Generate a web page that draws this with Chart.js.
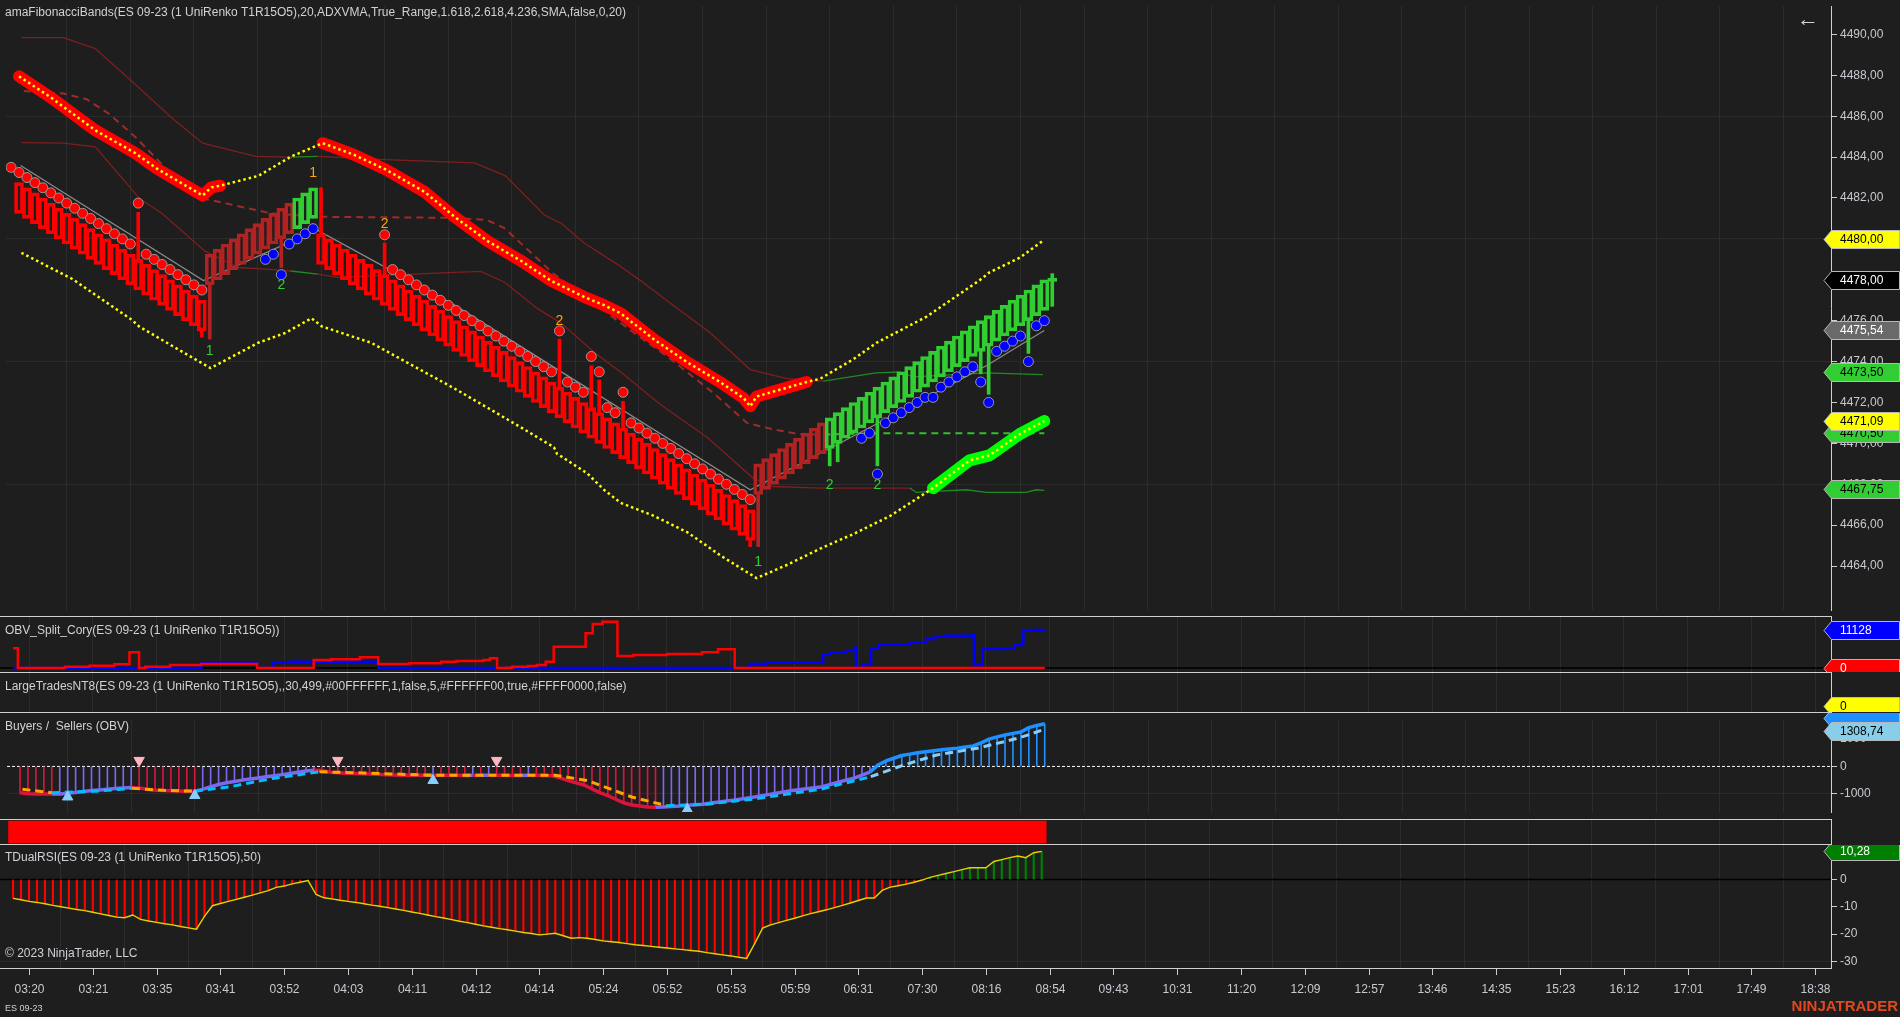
<!DOCTYPE html>
<html>
<head>
<meta charset="utf-8">
<title>ES 09-23</title>
<script src="https://cdn.jsdelivr.net/npm/chart.js@4.4.1/dist/chart.umd.min.js"></script>
<style>
  html, body { margin: 0; padding: 0; background: #1e1e1e; overflow: hidden; }
  #page { position: relative; width: 1900px; height: 1017px; background: #1e1e1e; font-family: "Liberation Sans", Arial, sans-serif; }
  canvas { position: absolute; left: 0; display: block; }
  .sep { position: absolute; left: 0; width: 1832px; height: 1px; background: #cfcfcf; }
  .txt { position: absolute; color: #cfd2d6; font-size: 12px; white-space: nowrap; line-height: 14px; }
</style>
</head>
<body>
<div id="page">
  <canvas id="cPrice" width="1900" height="616" style="top:0px"></canvas>
  <canvas id="cObv" width="1900" height="55" style="top:617px"></canvas>
  <canvas id="cLarge" width="1900" height="39" style="top:673px"></canvas>
  <canvas id="cBuyers" width="1900" height="106" style="top:713px"></canvas>
  <canvas id="cTrend" width="1900" height="24" style="top:820px"></canvas>
  <canvas id="cRsi" width="1900" height="172" style="top:845px"></canvas>

  <div class="sep" style="top:616px"></div>
  <div class="sep" style="top:672px"></div>
  <div class="sep" style="top:712px"></div>
  <div class="sep" style="top:819px"></div>
  <div class="sep" style="top:844px"></div>

  <div class="txt" style="left:5px;top:5px">amaFibonacciBands(ES 09-23 (1 UniRenko T1R15O5),20,ADXVMA,True_Range,1.618,2.618,4.236,SMA,false,0,20)</div>
  <div class="txt" style="left:5px;top:623px">OBV_Split_Cory(ES 09-23 (1 UniRenko T1R15O5))</div>
  <div class="txt" style="left:5px;top:679px">LargeTradesNT8(ES 09-23 (1 UniRenko T1R15O5),,30,499,#00FFFFFF,1,false,5,#FFFFFF00,true,#FFFF0000,false)</div>
  <div class="txt" style="left:5px;top:719px">Buyers /&nbsp; Sellers (OBV)</div>
  <div class="txt" style="left:5px;top:850px">TDualRSI(ES 09-23 (1 UniRenko T1R15O5),50)</div>
  <div class="txt" style="left:5px;top:946px">© 2023 NinjaTrader, LLC</div>
  <div class="txt" style="left:5px;top:1001px;font-size:9px">ES 09-23</div>
  <div class="txt" style="left:1797px;top:6px;font-size:22px;line-height:26px;color:#d4d4d4">&#8592;</div>
  <div class="txt" style="right:2px;top:997px;font-size:15px;line-height:18px;font-weight:bold;color:#e2471f">NINJATRADER</div>
</div>

<script>
// ---- time axis (bar index of each label, every 8 bars) ----
const timeLabels = ['03:20','03:21','03:35','03:41','03:52','04:03','04:11','04:12','04:14','05:24','05:52','05:53','05:59','06:31','07:30','08:16','08:54','09:43','10:31','11:20','12:09','12:57','13:46','14:35','15:23','16:12','17:01','17:49','18:38'];
const timeTickBars = [3,11,19,27,35,43,51,59,67,75,83,91,99,107,115,123,131,139,147,155,163,171,179,187,195,203,211,219,227];

// ---- price panel ----
const priceTicks = [4464,4466,4468,4470,4472,4474,4476,4478,4480,4482,4484,4486,4488,4490];
const priceGridLines = [4468,4474,4480,4486];

// UniRenko closes per bar (index 0..131)
const closes = [null,
  4481.25,4481.00,4480.75,4480.50,4480.25,4480.00,4479.75,4479.50,4479.25,4479.00,
  4478.75,4478.50,4478.25,4478.00,4477.75,4477.50,4477.25,4477.00,4476.75,4476.50,
  4476.25,4476.00,4475.75,4475.50,
  4479.25,4479.50,4479.75,4480.00,4480.25,4480.50,4480.75,4481.00,4481.25,4481.50,4481.75,
  4482.00,4482.25,4482.50,
  4478.75,4478.50,4478.25,4478.00,4477.75,4477.50,4477.25,4477.00,4476.75,4476.50,
  4476.25,4476.00,4475.75,4475.50,4475.25,4475.00,4474.75,4474.50,4474.25,4474.00,
  4473.75,4473.50,4473.25,4473.00,4472.75,4472.50,4472.25,4472.00,4471.75,4471.50,
  4471.25,4471.00,4470.75,4470.50,4470.25,4470.00,4469.75,4469.50,4469.25,4469.00,
  4468.75,4468.50,4468.25,4468.00,4467.75,4467.50,4467.25,4467.00,4466.75,4466.50,
  4466.25,4466.00,4465.75,4465.50,4465.25,
  4469.00,4469.25,4469.50,4469.75,4470.00,4470.25,4470.50,4470.75,4471.00,
  4471.25,4471.50,4471.75,4472.00,4472.25,4472.50,4472.75,4473.00,4473.25,4473.50,
  4473.75,4474.00,4474.25,4474.50,4474.75,4475.00,4475.25,4475.50,4475.75,4476.00,
  4476.25,4476.50,4476.75,4477.00,4477.25,4477.50,4477.75,4478.00,
  4478.00];
const BODY = 1.5; // trend 1 + open offset 5 ticks
// bar state runs: [from, to, state]
const barStates = [[1,24,'dn'],[25,35,'up1'],[36,38,'up2'],[39,93,'dn'],[94,102,'up1'],[103,131,'up2']];
// wicks: [bar, from, to]
const wicks = [[16,4479.0,4481.3],[24,4475.5,4475.2],[25,4477.75,4475.1],[34,4480.0,4478.6],[39,4480.25,4482.5],
  [47,4478.25,4479.8],[69,4472.75,4475.1],[73,4471.75,4473.8],[74,4471.5,4473.1],[77,4470.75,4472.05],
  [93,4465.25,4464.95],[94,4467.5,4464.95],[103,4469.75,4468.9],[104,4470.0,4469.1],[109,4471.25,4468.9],
  [122,4474.5,4473.4],[123,4474.75,4472.4],[128,4476.0,4474.4],[131,4476.7,4478.3]];

// trailing dots per bar
const dots = [4483.50,
  4483.25,4483.00,4482.75,4482.50,4482.25,4482.00,4481.75,4481.50,4481.25,4481.00,
  4480.75,4480.50,4480.25,4480.00,4479.75,
  4481.75,
  4479.25,4479.00,4478.75,4478.50,4478.25,4478.00,4477.75,4477.50,
  null,null,null,null,null,null,null,
  4479.00,4479.25,4478.25,4479.75,4480.00,4480.25,4480.50,
  null,null,null,null,null,null,null,null,
  4480.20,
  4478.50,4478.25,4478.00,4477.75,4477.50,4477.25,4477.00,4476.75,4476.50,4476.25,
  4476.00,4475.75,4475.50,4475.25,4475.00,4474.75,4474.50,4474.25,4474.00,4473.75,
  4473.50,
  4475.50,
  4473.00,4472.75,4472.50,
  4474.25,4473.50,
  4471.75,4471.50,
  4472.50,
  4471.00,4470.75,4470.50,4470.25,4470.00,4469.75,4469.50,4469.25,4469.00,4468.75,
  4468.50,4468.25,4468.00,4467.75,4467.50,4467.25,
  null,null,null,null,null,null,null,null,null,null,null,null,null,
  4470.25,4470.50,4468.50,4471.00,4471.25,4471.50,4471.75,4472.00,4472.25,4472.25,
  4472.75,4473.00,4473.25,4473.50,4473.75,4473.00,4472.00,4474.50,4474.75,4475.00,
  4475.25,4474.00,4475.75,4476.00,
  null];

// stop lines (vertices [bar, price])
const upperStop = [[1,4487.95],[5,4486.92],[10.6,4485.31],[15.6,4484.2],[18.5,4483.4],[24.1,4482.12],[25.2,4482.52],[26.3,4482.6],
  [31.1,4483.08],[35.3,4484.04],[38.7,4484.6],[39.2,4484.68],[43.1,4484.12],[47.1,4483.4],[52.1,4482.28],[55.8,4481.08],
  [60,4479.88],[64.2,4478.92],[67.9,4477.96],[72.1,4477.16],[74.6,4476.76],[76.7,4476.36],[80.9,4475.08],[85.1,4473.96],
  [89.2,4473.0],[92.2,4472.2],[93,4471.81],[93.8,4472.29],[95.9,4472.53],[100.1,4473.0],[101.8,4473.16],[106,4474.12],
  [108.9,4474.92],[115.2,4476.2],[121.8,4477.96],[123.1,4478.36],[126.9,4479.08],[130,4479.96]];
const upperStopActive = [[1,26.3],[39.2,100.1]];
const lowerStop = [[1.3,4479.32],[7.7,4478.04],[15.2,4476.04],[16.1,4475.72],[20.3,4474.76],[25.1,4473.68],[31.1,4474.92],
  [34.5,4475.4],[37.8,4476.12],[39.1,4475.72],[45.3,4474.92],[55.8,4472.68],[60,4471.73],[64.2,4470.77],[68.3,4469.81],
  [68.7,4469.49],[72.5,4468.53],[74.6,4467.73],[76.7,4467.09],[80.9,4466.45],[85.1,4465.65],[89.2,4464.53],[93.8,4463.41],
  [97.6,4464.05],[101.8,4464.85],[106,4465.57],[110.6,4466.45],[116,4467.81],[120.6,4469.17],[123.1,4469.41],
  [126.9,4470.45],[130,4471.09]];
const lowerStopActive = [[116,130]];

// fibonacci bands
const bandUpper = [[1.3,4489.84],[6.6,4489.84],[10.6,4489.31],[15.4,4487.64],[20.1,4485.96],[24.1,4484.68],[30.8,4484.04],
  [35.2,4484.0],[38.6,4484.04],[47.1,4483.88],[58.3,4483.72],[62.2,4483.08],[67.1,4481.17],[69.2,4480.76],[72.1,4479.8],
  [76.2,4478.78],[79.2,4477.96],[83,4476.84],[88,4475.4],[93,4473.61],[97.6,4473.17],[102.2,4473.04],[108.8,4473.45],
  [111.8,4473.49],[113.5,4473.25],[122.6,4473.45],[129.8,4473.36]];
const bandMiddle = [[1.6,4487.23],[6.6,4487.11],[9.5,4486.83],[12.3,4486.12],[15.6,4485.0],[18.4,4483.88],[21.3,4482.76],
  [24.4,4481.96],[32.8,4481.24],[39.1,4481.08],[55.8,4481.03],[59.9,4480.92],[62.1,4480.52],[68.3,4478.28],[73.4,4476.84],
  [78.4,4475.4],[83,4474.12],[88.4,4472.45],[92.6,4471.0],[95.9,4470.68],[99.3,4470.44],[102.2,4470.43],[109.5,4470.5],[130,4470.5]];
const bandLower = [[1.3,4484.71],[6.6,4484.68],[10.6,4484.5],[16.2,4481.96],[19,4481.24],[24.4,4479.4],[28.6,4478.6],
  [32,4478.52],[35.2,4478.43],[38.6,4478.28],[41.1,4478.12],[55.8,4478.36],[59.1,4478.41],[62.1,4477.88],[66.2,4476.6],
  [69.2,4475.88],[73.4,4474.44],[76.7,4473.49],[81.7,4471.9],[87.6,4470.29],[93.4,4468.29],[95.9,4467.89],[101.8,4467.81],
  [113.1,4467.81],[113.9,4467.6],[120.2,4467.73],[122.7,4467.6],[127.7,4467.6],[129,4467.73],[130,4467.7]];
const bandGreen = [[35.2,38.6],[102.2,131]];
const midGreen = [[102.2,131]];
const grayLine = [[1.2,4483.59],[24.2,4477.96],[38.5,4480.44],[55.8,4476.76],[93,4467.73],[107.2,4470.6],[116.2,4472.45],[122.7,4473.8],[130,4475.52]];

// small signal numbers: [bar, price, text, kind]
const priceNotes = [[38,4483.2,'1','o'],[25,4474.5,'1','g'],[34,4477.72,'2','g'],[47,4480.7,'2','o'],[69,4475.96,'2','o'],
  [94,4464.2,'1','g'],[103,4467.97,'2','g'],[109,4467.97,'2','g']];
const priceMarkers = [4480.00, 4478.00, 4475.54, 4473.50, 4470.50, 4471.09, 4467.75];

// ---- OBV split panel: step change points [bar, value] ----
const obvSell = [[1,5770],[1.6,0],[7.5,380],[10.6,670],[13.7,1080],[15.6,4600],[16.8,0],[17.6,380],[20.7,880],[24.6,1170],
  [31.6,0],[38.7,2340],[40.9,2550],[44.5,3130],[46.8,1170],[50.7,1380],[54.7,1850],[56.6,2050],[60,2340],[60.8,2840],
  [61.7,0],[62.8,90],[63.6,380],[65.6,590],[66.7,880],[67.8,1850],[68.8,6240],[72.8,10160],[73.7,12880],[74.9,13560],
  [76.8,3510],[78.8,3810],[83,4100],[87.4,4600],[89.4,5480],[91.5,0],[130.4,0]];
const obvBuy = [[1,0],[24.6,1670],[31.6,0],[33.6,1670],[35.9,1850],[46.8,0],[93.4,1170],[95.5,1550],[102.5,1850],[102.6,4010],
  [103.5,4600],[105.5,5070],[106.6,5940],[106.7,0],[107.6,1080],[108.6,5770],[109.6,6940],[113.5,7530],[115.6,8490],
  [116.6,9170],[117.9,9460],[121.4,9870],[121.5,880],[122.6,5560],[125.2,5770],[126.6,6730],[127.6,7230],[127.7,10920],
  [128.5,11130],[130.4,11130]];
const obvMarkers = [11128, 0];
const largeMarkers = [0];

// ---- Buyers / Sellers (OBV) ----
const buyersTicks = [1000, 0, -1000];
const buyersObv = [null,
  -960,-1000,-1010,-1010,-1010,-1005,-980,-950,-915,-880,
  -860,-835,-810,-790,-770,-790,-830,-870,-880,-890,
  -900,-905,-905,-840,-740,-660,-600,-550,-500,-460,
  -420,-380,-340,-300,-260,-215,-170,-135,-150,-215,
  -230,-245,-255,-270,-280,-290,-300,-310,-320,-325,
  -325,-325,-320,-320,-325,-325,-330,-325,-325,-320,
  -325,-325,-330,-330,-325,-325,-330,-340,-420,-520,
  -600,-680,-820,-960,-1070,-1200,-1330,-1410,-1450,-1480,
  -1490,-1480,-1470,-1450,-1420,-1400,-1380,-1340,-1300,-1260,
  -1225,-1180,-1140,-1090,-1040,-990,-940,-890,-850,-815,
  -780,-740,-660,-580,-500,-430,-320,-210,50,200,
  300,400,450,500,540,575,610,640,670,710,
  750,860,1000,1080,1150,1210,1260,1420,1500,1560,
  null];
const buyersSignal = [[1.3,-832],[5,-959],[10.6,-905],[15.1,-800],[19,-873],[23,-905],[27.4,-746],[33,-429],[38.7,-197],
  [44.3,-238],[52.7,-324],[68.4,-324],[72.4,-514],[78,-1117],[82.4,-1435],[87.4,-1381],[93.4,-1190],[101.8,-832],
  [108.1,-375],[112.2,48],[116.4,419],[121.8,683],[126.9,1054],[129.8,1340]];
const sellTriangles = [[16,220],[41,220],[61,220]];
const buyTriangles = [[7,-1117],[23,-1063],[53,-514],[85,-1571]];
const buyersMarkers = [1780, 1308.74];

// ---- trend bar panel: runs [from, to] ----
const trendRuns = [[1,130]];

// ---- TDualRSI ----
const rsiTicks = [0, -10, -20, -30];
const rsi = [null,
  -6.9,-7.4,-8.0,-8.4,-8.9,-9.5,-10.0,-10.5,-11.0,-11.4,
  -12.0,-12.6,-13.2,-13.8,-14.0,-13.0,-14.6,-15.2,-15.7,-16.2,
  -16.6,-17.2,-17.7,-18.2,-13.5,-9.6,-8.8,-8.0,-7.3,-6.5,
  -5.7,-4.9,-4.1,-2.9,-2.4,-1.6,-1.0,-0.4,-5.5,-6.7,
  -7.1,-7.6,-8.0,-8.4,-8.9,-9.4,-9.8,-10.3,-10.8,-11.3,
  -11.9,-12.4,-13.0,-13.6,-14.1,-14.7,-15.3,-15.8,-16.4,-17.0,
  -17.5,-18.0,-18.4,-18.9,-19.4,-19.8,-20.3,-20.0,-19.7,-20.6,
  -21.5,-21.3,-21.5,-22.0,-22.5,-22.8,-23.1,-23.5,-23.9,-24.2,
  -24.5,-24.8,-25.1,-25.4,-25.7,-26.0,-26.3,-26.8,-27.2,-27.6,
  -28.0,-28.5,-28.9,-23.5,-17.8,-16.6,-15.8,-15.0,-14.2,-13.3,
  -12.5,-11.8,-11.1,-10.3,-9.5,-8.6,-7.7,-6.8,-6.8,-4.0,
  -2.8,-2.3,-1.7,-1.0,-0.2,0.8,1.5,2.2,2.9,3.6,
  4.3,4.3,4.3,6.6,7.3,8.0,8.6,8.0,9.8,10.3,
  null];
const rsiMarkers = [10.28];

// ================= drawing =================
Chart.defaults.font.family = '"Liberation Sans", Arial, sans-serif';
Chart.defaults.font.size = 12;
Chart.defaults.animation = false;
Chart.defaults.elements.point.radius = 0;

const GRID = '#2c2c2c', AXIS = '#cfcfcf', AXIS_TXT = '#c6cad0';
const X_MIN = -0.637, X_MAX = 228.98;
const STATE_COLOR = { dn: '#ff0000', up1: '#b22222', up2: '#32cd32' };

const pts = pairs => pairs.map(p => ({ x: p[0], y: p[1] }));
const inRanges = (x, ranges) => ranges.some(r => x >= r[0] - 1e-6 && x <= r[1] + 1e-6);
const stateAt = i => { const r = barStates.find(s => i >= s[0] && i <= s[1]); return r ? r[2] : 'dn'; };
const fmt2 = v => v.toFixed(2).replace('.', ',');
const fmtInt = v => String(Math.round(v));

function xScale() {
  return {
    type: 'linear', min: X_MIN, max: X_MAX, offset: false,
    afterBuildTicks: s => { s.ticks = timeTickBars.map(v => ({ value: v })); },
    afterFit: s => { s.height = 0; s.paddingLeft = 0; s.paddingRight = 0; },
    ticks: { display: false },
    grid: { color: GRID, lineWidth: 1, drawTicks: false },
    border: { display: false }
  };
}

function yScale(min, max, tickVals, fmt, gridVals) {
  return {
    type: 'linear', position: 'right', min: min, max: max,
    afterBuildTicks: s => { s.ticks = tickVals.map(v => ({ value: v })); },
    afterFit: s => { s.width = 69; s.paddingTop = 0; s.paddingBottom = 0; },
    ticks: { display: !!fmt, autoSkip: false, padding: 3, color: AXIS_TXT, font: { size: 12 },
             callback: v => fmt ? fmt(v) : '' },
    grid: { color: c => (c.tick && gridVals.includes(c.tick.value)) ? GRID : 'rgba(0,0,0,0)',
            tickColor: AXIS, tickLength: 6, lineWidth: 1 },
    border: { display: true, color: AXIS, width: 1 }
  };
}

function baseOptions(yopts, padBottom) {
  return {
    responsive: false, maintainAspectRatio: false, animation: false, events: [],
    layout: { padding: { left: 0, right: 0, top: 0, bottom: padBottom || 0 } },
    plugins: { legend: { display: false }, tooltip: { enabled: false } },
    scales: { x: xScale(), y: yopts }
  };
}

// right-axis value flags
function markerPlugin(values, styles, fmt) {
  return {
    id: 'markers',
    afterDraw(chart) {
      const { ctx, chartArea } = chart, ys = chart.scales.y, x0 = chartArea.right;
      ctx.save();
      values.forEach((v, k) => {
        const st = styles[k], y = Math.round(ys.getPixelForValue(v));
        ctx.beginPath();
        ctx.moveTo(x0 - 7, y + 0.5);
        ctx.lineTo(x0 + 0.5, y - 8.5);
        ctx.lineTo(1899.5, y - 8.5);
        ctx.lineTo(1899.5, y + 9.5);
        ctx.lineTo(x0 + 0.5, y + 9.5);
        ctx.closePath();
        ctx.fillStyle = st.bg; ctx.fill();
        ctx.strokeStyle = st.line || '#b8b8b8'; ctx.lineWidth = 1; ctx.stroke();
        if (st.hideText) return;
        ctx.fillStyle = st.fg;
        ctx.font = '12px "Liberation Sans", Arial, sans-serif';
        ctx.textAlign = 'left'; ctx.textBaseline = 'middle';
        ctx.fillText(fmt(v), x0 + 9, y + 1);
      });
      ctx.restore();
    }
  };
}

function notesPlugin(notes) {
  return {
    id: 'notes',
    afterDatasetsDraw(chart) {
      const { ctx } = chart, xs = chart.scales.x, ys = chart.scales.y;
      ctx.save();
      ctx.font = '14px "Liberation Sans", Arial, sans-serif';
      ctx.textAlign = 'center'; ctx.textBaseline = 'middle';
      notes.forEach(n => {
        ctx.fillStyle = n[3] === 'o' ? '#ffa500' : '#32cd32';
        ctx.fillText(n[2], xs.getPixelForValue(n[0]), ys.getPixelForValue(n[1]));
      });
      ctx.restore();
    }
  };
}

const timeAxisPlugin = {
  id: 'timeAxis',
  afterDraw(chart) {
    const { ctx, chartArea } = chart, xs = chart.scales.x, y0 = chartArea.bottom;
    ctx.save();
    ctx.strokeStyle = AXIS; ctx.lineWidth = 1;
    ctx.beginPath(); ctx.moveTo(0, y0 + 0.5); ctx.lineTo(chartArea.right + 1, y0 + 0.5); ctx.stroke();
    ctx.fillStyle = AXIS_TXT;
    ctx.font = '12px "Liberation Sans", Arial, sans-serif';
    ctx.textAlign = 'center'; ctx.textBaseline = 'middle';
    timeTickBars.forEach((b, k) => {
      const px = Math.round(xs.getPixelForValue(b)) + 0.5;
      ctx.beginPath(); ctx.moveTo(px, y0); ctx.lineTo(px, y0 + 7); ctx.stroke();
      ctx.fillText(timeLabels[k], px, y0 + 22);
    });
    ctx.restore();
  }
};

// ---------- price chart ----------
const bodies = [];
closes.forEach((c, i) => {
  if (c == null) return;
  if (c === closes[i - 1]) { bodies.push({ x: i, y: [c - 0.08, c + 0.08] }); return; }
  const open = stateAt(i) === 'dn' ? c + BODY : c - BODY;
  bodies.push({ x: i, y: [open, c] });
});
const dotPts = [];
dots.forEach((v, i) => { if (v != null) dotPts.push({ x: i, y: v }); });

const bandSeg = ranges => ({ borderColor: c => inRanges(c.p0.parsed.x + 0.01, ranges) ? '#1f8a1f' : '#7d1f1f' });
const midSeg = ranges => ({ borderColor: c => inRanges(c.p0.parsed.x + 0.01, ranges) ? '#2fbf2f' : '#9e2b2b' });

const priceSets = [
  { type: 'line', data: pts(upperStop), borderColor: '#ffff00', borderWidth: 2.5, borderDash: [2.5, 3], order: 1 },
  { type: 'line', data: pts(lowerStop), borderColor: '#ffff00', borderWidth: 2.5, borderDash: [2.5, 3], order: 1 }
];
upperStopActive.forEach(r => priceSets.push({
  type: 'line', data: pts(upperStop.filter(p => inRanges(p[0], [r]))), borderColor: '#ff0000', borderWidth: 12,
  borderCapStyle: 'round', borderJoinStyle: 'round', order: 2 }));
lowerStopActive.forEach(r => priceSets.push({
  type: 'line', data: pts(lowerStop.filter(p => inRanges(p[0], [r]))), borderColor: '#00ff00', borderWidth: 12,
  borderCapStyle: 'round', borderJoinStyle: 'round', order: 2 }));
priceSets.push(
  { type: 'line', data: dotPts, showLine: false, pointRadius: 5, pointBorderWidth: 1, pointBorderColor: '#9a9a9a',
    pointBackgroundColor: c => (c.raw && stateAt(c.raw.x) === 'dn') ? '#ff0000' : '#0000ff', order: 3 },
  { type: 'bar', data: wicks.map(w => ({ x: w[0], y: [w[1], w[2]] })), grouped: false, barThickness: 3, borderWidth: 0,
    backgroundColor: c => STATE_COLOR[stateAt(c.raw.x)], order: 4 },
  { type: 'bar', data: bodies, grouped: false, barThickness: 9, borderWidth: 3, borderSkipped: false,
    backgroundColor: 'rgba(0,0,0,0)', borderColor: c => STATE_COLOR[stateAt(c.raw.x)], order: 5 },
  { type: 'line', data: pts(grayLine), borderColor: '#8c8c8c', borderWidth: 1.2, order: 6 },
  { type: 'line', data: pts(bandUpper), borderWidth: 1.3, segment: bandSeg(bandGreen), order: 7 },
  { type: 'line', data: pts(bandLower), borderWidth: 1.3, segment: bandSeg(bandGreen), order: 7 },
  { type: 'line', data: pts(bandMiddle), borderWidth: 2, borderDash: [7, 5], segment: midSeg(midGreen), order: 7 }
);

new Chart(document.getElementById('cPrice'), {
  type: 'line',
  data: { datasets: priceSets },
  options: baseOptions(yScale(4461.85, 4491.39, priceTicks, fmt2, priceGridLines)),
  plugins: [notesPlugin(priceNotes), markerPlugin(priceMarkers, [
    { bg: '#ffff00', fg: '#000000' }, { bg: '#000000', fg: '#ffffff' }, { bg: '#696969', fg: '#ffffff' },
    { bg: '#32cd32', fg: '#000000' }, { bg: '#32cd32', fg: '#000000' }, { bg: '#ffff00', fg: '#000000' },
    { bg: '#32cd32', fg: '#000000' }], fmt2)]
});

// ---------- OBV split ----------
new Chart(document.getElementById('cObv'), {
  type: 'line',
  data: { datasets: [
    { data: pts(obvSell), stepped: 'before', borderColor: '#ff0000', borderWidth: 2.5, order: 1 },
    { data: pts(obvBuy), stepped: 'before', borderColor: '#0000ff', borderWidth: 2.5, order: 2 },
    { data: [{ x: X_MIN, y: 0 }, { x: X_MAX, y: 0 }], borderColor: '#000000', borderWidth: 1.5, order: 3 }
  ] },
  options: baseOptions(yScale(-1171, 14933, [], null, [])),
  plugins: [markerPlugin(obvMarkers, [{ bg: '#0000ff', fg: '#ffffff' }, { bg: '#ff0000', fg: '#ffffff' }], fmtInt)]
});

// ---------- LargeTrades (empty pane) ----------
new Chart(document.getElementById('cLarge'), {
  type: 'line',
  data: { datasets: [] },
  options: baseOptions(yScale(-0.1818, 1, [], null, [])),
  plugins: [markerPlugin(largeMarkers, [{ bg: '#ffff00', fg: '#000000' }], fmtInt)]
});

// ---------- Buyers / Sellers ----------
const buyersPts = [];
buyersObv.forEach((v, i) => { if (v != null) buyersPts.push({ x: i, y: v }); });
const obvColor = (prev, v) => v > 0 ? '#1e90ff' : (prev != null && v > prev ? '#7b68ee' : '#dc143c');
const sigColor = (prev, v) => v > 0 ? '#87cefa' : (v > prev ? '#00bfff' : '#ffa500');

new Chart(document.getElementById('cBuyers'), {
  type: 'line',
  data: { datasets: [
    { type: 'line', data: pts(sellTriangles), showLine: false, pointStyle: 'triangle', rotation: 180, pointRadius: 6,
      pointBackgroundColor: '#ffb6c1', pointBorderColor: '#ffb6c1', order: 1 },
    { type: 'line', data: pts(buyTriangles), showLine: false, pointStyle: 'triangle', pointRadius: 6,
      pointBackgroundColor: '#87cefa', pointBorderColor: '#87cefa', order: 1 },
    { type: 'line', data: pts(buyersSignal), borderWidth: 3, borderDash: [8, 5],
      segment: { borderColor: c => sigColor(c.p0.parsed.y, c.p1.parsed.y) }, order: 2 },
    { type: 'line', data: buyersPts, borderWidth: 3.5, borderJoinStyle: 'round',
      segment: { borderColor: c => obvColor(c.p0.parsed.y, c.p1.parsed.y) }, order: 3 },
    { type: 'bar', data: buyersPts.map(p => ({ x: p.x, y: [0, p.y] })), grouped: false, barThickness: 1, borderWidth: 0,
      backgroundColor: c => obvColor(buyersObv[c.raw.x - 1], buyersObv[c.raw.x]), order: 4 },
    { type: 'line', data: [{ x: X_MIN, y: 0 }, { x: X_MAX, y: 0 }], borderColor: '#ffffff', borderWidth: 1,
      borderDash: [3, 2], order: 5 }
  ] },
  options: baseOptions(yScale(-1666.7, 1698.4, buyersTicks, fmtInt, [-1000])),
  plugins: [markerPlugin(buyersMarkers, [{ bg: '#1e90ff', fg: '#000000', hideText: true }, { bg: '#87ceeb', fg: '#000000' }], fmt2)]
});

// ---------- trend bar ----------
const trendBars = [];
trendRuns.forEach(r => { for (let i = r[0]; i <= r[1]; i++) trendBars.push({ x: i, y: [0, 1] }); });
new Chart(document.getElementById('cTrend'), {
  type: 'line',
  data: { datasets: [
    { type: 'bar', data: trendBars, grouped: false, barThickness: 9, borderWidth: 0, backgroundColor: '#ff0000' }
  ] },
  options: baseOptions(yScale(-0.05, 1.05, [], null, []))
});

// ---------- TDualRSI ----------
const rsiPts = [];
rsi.forEach((v, i) => { if (v != null) rsiPts.push({ x: i, y: v }); });
new Chart(document.getElementById('cRsi'), {
  type: 'line',
  data: { datasets: [
    { type: 'line', data: rsiPts, borderColor: '#e8d000', borderWidth: 1.4, order: 1 },
    { type: 'bar', data: rsiPts.map(p => ({ x: p.x, y: [0, p.y] })), grouped: false, barThickness: 1.5, borderWidth: 0,
      backgroundColor: c => c.raw.y[1] < 0 ? '#ff0000' : '#008000', order: 2 },
    { type: 'line', data: [{ x: X_MIN, y: 0 }, { x: X_MAX, y: 0 }], borderColor: '#000000', borderWidth: 1.5, order: 3 }
  ] },
  options: baseOptions(yScale(-32.42, 12.64, rsiTicks, fmtInt, [-30]), 49),
  plugins: [timeAxisPlugin, markerPlugin(rsiMarkers, [{ bg: '#008000', fg: '#ffffff' }], fmt2)]
});
</script>
</body>
</html>
